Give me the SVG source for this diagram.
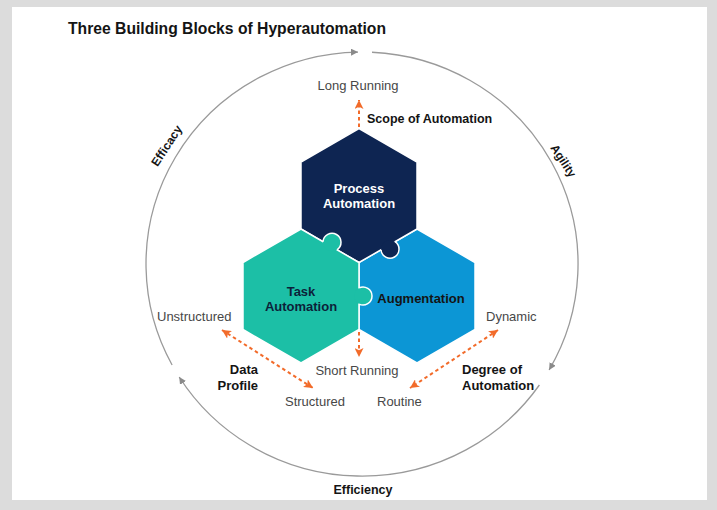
<svg xmlns="http://www.w3.org/2000/svg" width="717" height="510" viewBox="0 0 717 510">
<style>
text{font-family:"Liberation Sans",Arial,sans-serif}
.b{font-weight:bold;fill:#141414}
.r{font-size:13px;fill:#474747}
.hx{stroke:#fff;stroke-width:1.5}
.ring{fill:none;stroke:#9a9a9a;stroke-width:1.3}
.dash{fill:none;stroke:#f26b2a;stroke-width:2;stroke-dasharray:3.5 3}
.knob{fill:none;stroke:#fff;stroke-width:1.5}
</style>
<defs>
<marker id="ga" viewBox="0 0 10 10" refX="10" refY="5" markerWidth="7" markerHeight="7" markerUnits="userSpaceOnUse" orient="auto"><path d="M0,0 L10,5 L0,10 z" fill="#8a8a8a"/></marker>
<marker id="oa" viewBox="0 0 10 10" refX="10" refY="5" markerWidth="9" markerHeight="9" markerUnits="userSpaceOnUse" orient="auto-start-reverse"><path d="M0,0 L10,5 L0,10 L2.5,5 z" fill="#f26b2a"/></marker>
</defs>
<rect width="717" height="510" fill="#dcdcdc"/>
<rect x="12" y="7" width="695" height="493" fill="#fff"/>
<text x="68" y="34" class="b" font-size="16" textLength="318" lengthAdjust="spacingAndGlyphs">Three Building Blocks of Hyperautomation</text>

<g id="cycle">
<path class="ring" d="M172.1,365 A216,212 0 0 1 358,52.04" marker-end="url(#ga)"/>
<path class="ring" d="M372,52.23 A216,212 0 0 1 549.1,370" marker-end="url(#ga)"/>
<path class="ring" d="M539.4,385 A216,212 0 0 1 179.2,377" marker-end="url(#ga)"/>
<text class="b" font-size="12" transform="translate(170,148) rotate(-57)" text-anchor="middle">Efficacy</text>
<text class="b" font-size="12" transform="translate(560,163) rotate(57)" text-anchor="middle">Agility</text>
<text class="b" font-size="12.5" x="363" y="494" text-anchor="middle">Efficiency</text>
</g>

<g id="augmentation">
<polygon class="hx" fill="#0c96d5" points="417,229 475,262.5 475,329.5 417,363 359,329.5 359,262.5"/>
<text class="b" font-size="13" x="421" y="303" text-anchor="middle" fill="#0c1f3a">Augmentation</text>
</g>

<g id="process-automation">
<polygon class="hx" fill="#0e2552" points="359,128.5 417,162 417,229 359,262.5 301,229 301,162"/>
<circle cx="390" cy="249.21" r="9" fill="#0e2552"/>
<path class="knob" d="M381.02,249.78 A9,9 0 1 0 394.98,241.72"/>
<text class="b" font-size="13" x="359" y="193" text-anchor="middle" style="fill:#fff">Process</text>
<text class="b" font-size="13" x="359" y="208" text-anchor="middle" style="fill:#fff">Automation</text>
</g>

<g id="task-automation">
<polygon class="hx" fill="#1cbfa6" points="301,229 359,262.5 359,329.5 301,363 243,329.5 243,262.5"/>
<circle cx="332" cy="242.29" r="9" fill="#1cbfa6"/>
<path class="knob" d="M323.02,241.72 A9,9 0 1 1 336.98,249.78"/>
<circle cx="363" cy="296" r="9" fill="#1cbfa6"/>
<path class="knob" d="M359,287.94 A9,9 0 1 1 359,304.06"/>
<text class="b" font-size="13" x="301" y="296" text-anchor="middle" style="fill:#0c1f3a">Task</text>
<text class="b" font-size="13" x="301" y="311" text-anchor="middle" style="fill:#0c1f3a">Automation</text>
</g>

<g id="connectors">
<path class="dash" d="M359,127 L359,100" marker-end="url(#oa)"/>
<path class="dash" d="M359,332 L359,357" marker-end="url(#oa)"/>
<path class="dash" d="M222,330 L313,388" marker-start="url(#oa)" marker-end="url(#oa)"/>
<path class="dash" d="M498,330 L410,388" marker-start="url(#oa)" marker-end="url(#oa)"/>
</g>

<g id="labels">
<text class="r" x="358" y="90" text-anchor="middle">Long Running</text>
<text class="b" font-size="12.5" x="367" y="123">Scope of Automation</text>
<text class="r" x="157" y="321">Unstructured</text>
<text class="r" x="486" y="321">Dynamic</text>
<text class="r" x="357" y="375" text-anchor="middle">Short Running</text>
<text class="r" x="285" y="406">Structured</text>
<text class="r" x="377" y="406">Routine</text>
<text class="b" font-size="13" x="258" y="374" text-anchor="end">Data</text>
<text class="b" font-size="13" x="258" y="390" text-anchor="end">Profile</text>
<text class="b" font-size="13" x="462" y="374">Degree of</text>
<text class="b" font-size="13" x="462" y="390">Automation</text>
</g>
</svg>
